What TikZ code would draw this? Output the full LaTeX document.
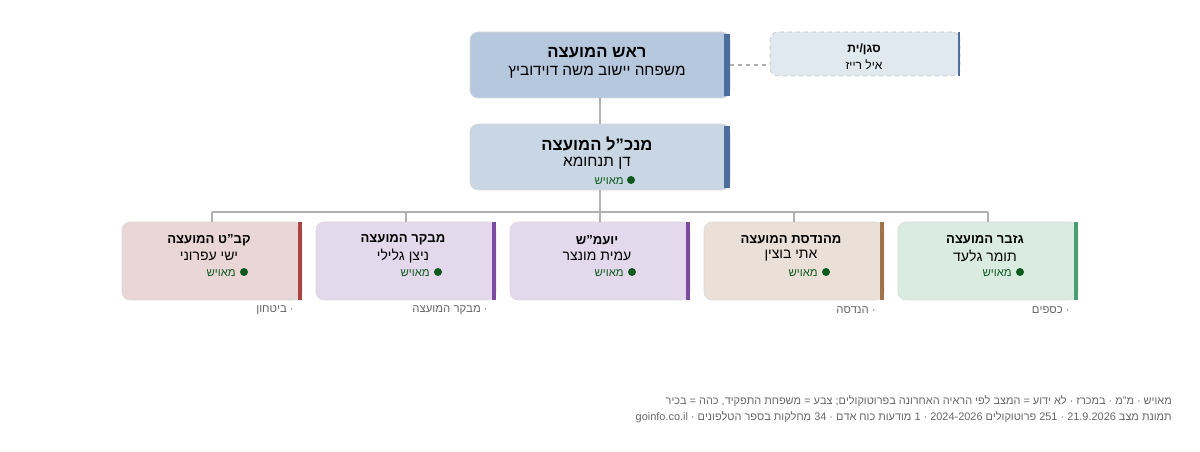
\documentclass[tikz,border=0pt]{standalone}
\usepackage{fontspec}
\setmainfont{Liberation Sans}[Ligatures=ResetAll]
\TeXXeTstate=1
\newcommand{\he}[1]{\beginR#1\endR}
\newcommand{\qq}{\char34\relax}
\definecolor{headfill}{HTML}{B6C8DD}
\definecolor{ceofill}{HTML}{C9D6E3}
\definecolor{depfill}{HTML}{E0E8F0}
\definecolor{bluebar}{HTML}{4A6F9E}
\definecolor{redfill}{HTML}{EAD6D6}
\definecolor{redbar}{HTML}{A94442}
\definecolor{purpfill}{HTML}{E4D8EC}
\definecolor{purpbar}{HTML}{7B4A9E}
\definecolor{brownfill}{HTML}{EBE0D8}
\definecolor{brownbar}{HTML}{A0724A}
\definecolor{greenfill}{HTML}{DAEBE1}
\definecolor{greenbar}{HTML}{4A9E6F}
\definecolor{okgreen}{HTML}{0E5A1E}
\definecolor{linegray}{HTML}{B0B0B0}
\definecolor{textgray}{HTML}{666666}
\tikzset{
  box/.style={draw=black!15, rounded corners=6pt, inner sep=0pt},
  bar/.style={line width=4.5pt},
  conn/.style={draw=linegray, line width=1pt},
  status/.style={text=okgreen, font=\fontsize{8.5}{10}\selectfont, anchor=east, inner sep=0pt},
}
\begin{document}
\begin{tikzpicture}[x=0.75pt, y=-0.75pt]
        \useasboundingbox (0,0) rectangle (1200,452);

        % Head and deputy
        \node[box, fill=headfill, minimum width=195pt, minimum height=49.5pt] (head) at (600,65) {};
        \draw[bar, bluebar] (727,34) -- (727,96);
        \node[font=\bfseries\fontsize{12.5}{15}\selectfont] (headt) at (597,53) {\he{ראש המועצה}};
        \node[font=\fontsize{11.5}{14}\selectfont] (headn) at (597,72) {\he{משפחה יישוב משה דוידוביץ}};

        \node[box, dashed, draw=black!25, fill=depfill, minimum width=142.5pt, minimum height=33pt] (dep) at (865,54) {};
        \draw[line width=2pt, bluebar] (959,32) -- (959,76);
        \node[font=\bfseries\fontsize{9}{11}\selectfont] (dept) at (864,49) {\he{סגן/ית}};
        \node[font=\fontsize{9}{11}\selectfont] (depn) at (864,65) {\he{איל רייז}};
        \draw[conn, dashed] (head.east |- 0,65) -- (dep.west |- 0,65);

        % CEO
        \node[box, fill=ceofill, minimum width=195pt, minimum height=49.5pt] (ceo) at (600,157) {};
        \draw[bar, bluebar] (727,126) -- (727,188);
        \node[font=\bfseries\fontsize{12.5}{15}\selectfont] (ceot) at (597,144) {\he{מנכ\qq ל המועצה}};
        \node[font=\fontsize{11.5}{14}\selectfont] (ceon) at (597,163) {\he{דן תנחומא}};
        \node[status] (ceos) at (624,181) {\he{מאויש}};
        \fill[okgreen] (631,180) circle (4);
        \draw[conn] (head) -- (ceo);

        % Departments
        \coordinate (bus) at (600,212);
        \draw[conn] (ceo.south) -- (bus);
        \draw[conn] (212,212) -- (988,212);
        \foreach \cx/\fc/\bc/\ttl/\nm/\cap [count=\i] in {
            212/redfill/redbar/{קב\qq ט המועצה}/{ישי עפרוני}/{ביטחון},
            406/purpfill/purpbar/{מבקר המועצה}/{ניצן גלילי}/{מבקר המועצה},
            600/purpfill/purpbar/{יועמ\qq ש}/{עמית מונצר}/{},
            794/brownfill/brownbar/{מהנדסת המועצה}/{אתי בוצין}/{הנדסה},
            988/greenfill/greenbar/{גזבר המועצה}/{תומר גלעד}/{כספים}} {
          \node[box, fill=\fc, minimum width=135pt, minimum height=58.5pt] (dept\i) at (\cx,261) {};
          \draw[conn] (\cx,212) -- (dept\i.north);
          \draw[line width=3pt, \bc] (\cx+88,222) -- (\cx+88,300);
          \node[font=\bfseries\fontsize{9.8}{12}\selectfont] (dept\i t) at (\cx-3,240) {\he{\ttl}};
          \node[font=\fontsize{10.5}{13}\selectfont] (dept\i n) at (\cx-3,256) {\he{\nm}};
          \node[status] (dept\i s) at (\cx+24,273) {\he{מאויש}};
          \fill[okgreen] (\cx+32,272) circle (4);
          \node[anchor=east, inner sep=0pt, text=textgray, font=\fontsize{8.5}{11}\selectfont] (dept\i c) at (\cx+82,310) {\ifx\cap\empty\else\he{· \cap}\fi};
        }

        % Footer
        \node[anchor=east, inner sep=0pt, text=textgray, font=\fontsize{8.2}{10}\selectfont] (legend) at (1172,401)
          {\he{מאויש · מ\qq מ · במכרז · לא ידוע = המצב לפי הראיה האחרונה בפרוטוקולים; צבע = משפחת התפקיד, כהה = בכיר}};
        \node[anchor=east, inner sep=0pt, text=textgray, font=\fontsize{8.2}{10}\selectfont] (stamp) at (1172,417)
          {\he{תמונת מצב 21.9.2026 · 251 פרוטוקולים 2024-2026 · 1 מודעות כוח אדם · 34 מחלקות בספר הטלפונים · goinfo.co.il}};
        \end{tikzpicture}
\end{document}
